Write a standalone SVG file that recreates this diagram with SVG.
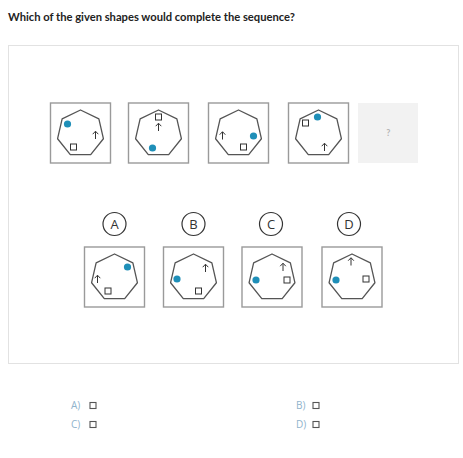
<svg xmlns="http://www.w3.org/2000/svg" xmlns:xlink="http://www.w3.org/1999/xlink" width="463" height="458" viewBox="0 0 463 458">
<style>
.title{font-family:Lato,"Liberation Sans",sans-serif;font-weight:bold;font-size:11.2px;fill:#222}
.box{fill:#fff;stroke:#9a9a9a;stroke-width:1.4}
.hept{fill:none;stroke:#555;stroke-width:1.3;stroke-linejoin:round}
.sq{fill:#fff;stroke:#333;stroke-width:1}
.arr{fill:none;stroke:#333;stroke-width:1}
.dot{fill:#1f8fb8}
.lc{fill:#fff;stroke:#333;stroke-width:1.2}
.lt{font-family:"Open Sans","Liberation Sans",sans-serif;font-size:13px;fill:#333;text-anchor:middle}
.opt{font-family:"Open Sans","Liberation Sans",sans-serif;font-size:10px;fill:#8fb3cc}
.osq{fill:#fff;stroke:#555;stroke-width:1.1}
</style>
<defs>
<g id="frame">
<rect class="box" x="-30" y="-30" width="60" height="60"/>
<polygon class="hept" points="0,-23 18.37,-14.15 22.91,5.73 10.2,21.67 -10.2,21.67 -22.91,5.73 -18.37,-14.15"/>
</g>
<g id="arrow"><path class="arr" d="M0,4 V-3.5 M-2.8,-0.8 L0,-3.8 L2.8,-0.8"/></g>
<rect id="sq" class="sq" x="-3" y="-3" width="6" height="6"/>
<circle id="dot" class="dot" r="3.6"/>
</defs>
<rect width="463" height="458" fill="#fff"/>
<text class="title" x="8" y="21">Which of the given shapes would complete the sequence?</text>
<rect x="8.5" y="45.5" width="450" height="318" fill="#fff" stroke="#e2e2e2" stroke-width="1"/>

<g id="seq1" transform="translate(80.5,133)">
<use xlink:href="#frame"/><use xlink:href="#dot" x="-13" y="-9"/><use xlink:href="#arrow" x="15" y="2"/><use xlink:href="#sq" x="-7" y="14"/>
</g>
<g id="seq2" transform="translate(158.5,133)">
<use xlink:href="#frame"/><use xlink:href="#sq" x="0" y="-16"/><use xlink:href="#arrow" x="0" y="-6"/><use xlink:href="#dot" x="-6" y="15"/>
</g>
<g id="seq3" transform="translate(238.5,133)">
<use xlink:href="#frame"/><use xlink:href="#arrow" x="-16" y="2.5"/><use xlink:href="#dot" x="15" y="3"/><use xlink:href="#sq" x="5" y="14"/>
</g>
<g id="seq4" transform="translate(318.5,133)">
<use xlink:href="#frame"/><use xlink:href="#sq" x="-13" y="-10"/><use xlink:href="#dot" x="-1" y="-16"/><use xlink:href="#arrow" x="6" y="14"/>
</g>
<g id="seq5">
<rect x="358" y="103" width="60" height="60" fill="#f2f2f2"/>
<text x="388.3" y="136" font-family="Lato,'Liberation Sans',sans-serif" font-size="9" font-weight="bold" fill="#b5b5b5" text-anchor="middle">?</text>
</g>

<g id="labelA"><circle class="lc" cx="114.5" cy="224" r="11.5"/><text class="lt" x="114.5" y="228.6">A</text></g>
<g id="labelB"><circle class="lc" cx="193.5" cy="224" r="11.5"/><text class="lt" x="193.5" y="228.6">B</text></g>
<g id="labelC"><circle class="lc" cx="271" cy="224" r="11.5"/><text class="lt" x="271" y="228.6">C</text></g>
<g id="labelD"><circle class="lc" cx="349" cy="224" r="11.5"/><text class="lt" x="349" y="228.6">D</text></g>

<g id="optA" transform="translate(114.5,277)">
<use xlink:href="#frame"/><use xlink:href="#dot" x="13" y="-10"/><use xlink:href="#arrow" x="-17" y="2"/><use xlink:href="#sq" x="-6.5" y="14"/>
</g>
<g id="optB" transform="translate(193.5,277)">
<use xlink:href="#frame"/><use xlink:href="#arrow" x="12" y="-9"/><use xlink:href="#dot" x="-16.5" y="2"/><use xlink:href="#sq" x="5" y="14"/>
</g>
<g id="optC" transform="translate(272,277)">
<use xlink:href="#frame"/><use xlink:href="#arrow" x="11" y="-10"/><use xlink:href="#sq" x="15" y="3"/><use xlink:href="#dot" x="-16" y="3"/>
</g>
<g id="optD" transform="translate(352,277)">
<use xlink:href="#frame"/><use xlink:href="#arrow" x="-1" y="-15.5"/><use xlink:href="#sq" x="14" y="2"/><use xlink:href="#dot" x="-16" y="3"/>
</g>

<g id="answers">
<text class="opt" x="71" y="409">A)</text><rect class="osq" x="90" y="402.5" width="6" height="6"/>
<text class="opt" x="71" y="428">C)</text><rect class="osq" x="90" y="421.5" width="6" height="6"/>
<text class="opt" x="296" y="409">B)</text><rect class="osq" x="313" y="402.5" width="6" height="6"/>
<text class="opt" x="296" y="428">D)</text><rect class="osq" x="313" y="421.5" width="6" height="6"/>
</g>
</svg>
